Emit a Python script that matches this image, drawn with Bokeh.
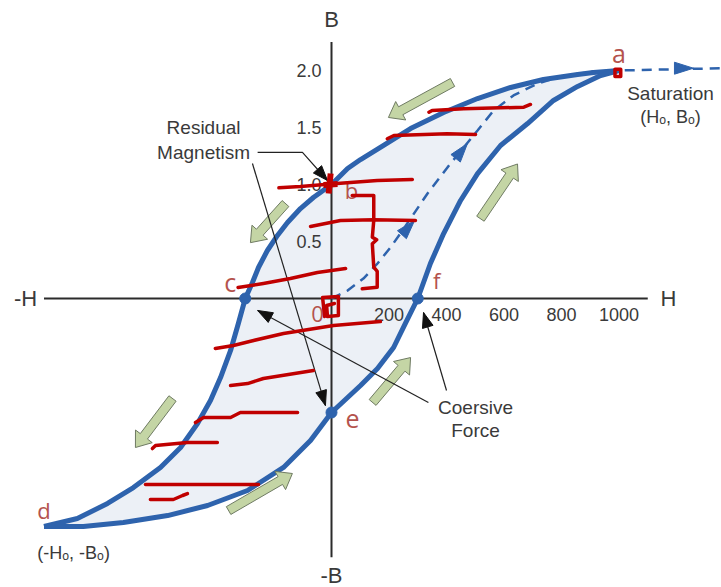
import math

from bokeh.core.properties import value
from bokeh.embed import file_html
from bokeh.models import Range1d
from bokeh.plotting import figure
from bokeh.resources import INLINE

# ---------------------------------------------------------------------------
# Data: B-H hysteresis loop (H in A/m, B in tesla)
# ---------------------------------------------------------------------------
# upper (descending) branch, from saturation a down to d
UPPER_H = [1000, 911, 856, 737, 623, 508, 390, 275, 170, 101, 56, 0, -63, -108,
           -153, -188, -223, -254, -275, -300, -324, -351, -386, -421, -466,
           -525, -595, -689, -779, -884, -1000]
UPPER_B = [2.0, 1.982, 1.965, 1.921, 1.851, 1.754, 1.632, 1.491, 1.325, 1.219,
           1.140, 1.0, 0.886, 0.789, 0.667, 0.553, 0.421, 0.272, 0.140, 0.0,
           -0.219, -0.456, -0.693, -0.895, -1.096, -1.307, -1.482, -1.658,
           -1.798, -1.930, -2.0]

# lower (ascending) branch, from d back up to a
LOWER_H = [-1000, -863, -724, -570, -431, -292, -167, -73, 0, 101, 160, 216,
           257, 300, 344, 390, 449, 508, 588, 682, 772, 856, 936, 1000]
LOWER_B = [-2.0, -2.0, -1.965, -1.904, -1.816, -1.684, -1.482, -1.246, -1.0,
           -0.763, -0.614, -0.430, -0.219, 0.0, 0.307, 0.570, 0.860, 1.096,
           1.342, 1.535, 1.737, 1.860, 1.956, 2.0]

# initial magnetisation curve from the origin to saturation and beyond
VIRGIN_H = [0, 56, 111, 160, 205, 254, 334, 414, 508, 564, 633, 717, 797, 911,
            1000, 1360]
VIRGIN_B = [0.0, 0.070, 0.175, 0.307, 0.447, 0.623, 0.921, 1.184, 1.474, 1.649,
            1.781, 1.886, 1.947, 1.991, 2.0, 2.02]

# labelled points on the loop
KEY_NAMES = ["a", "b", "c", "d", "e", "f"]
KEY_H = [1000, 0, -300, -1000, 0, 300]
KEY_B = [2.0, 1.0, 0.0, -2.0, -1.0, 0.0]
DOT_NAMES = ["c", "e", "f"]

# tick values
H_TICKS = [200, 400, 600, 800, 1000]
H_TICK_LABELS = ["200", "400", "600", "800", "1000"]
B_TICKS = [0.5, 1.0, 1.5, 2.0]
B_TICK_LABELS = ["0.5", "1.0", "1.5", "2.0"]

# hand-drawn red markup strokes (H, B)
MARKUP = [
    ([339, 350, 460, 669, 692], [1.634, 1.649, 1.664, 1.678, 1.702]),
    ([194, 217, 402, 501], [1.401, 1.430, 1.445, 1.439]),
    ([-183, -108, 8, 159, 281], [0.971, 0.982, 1.006, 1.035, 1.044]),
    ([-73, 31, 147, 292], [0.632, 0.684, 0.690, 0.684]),
    ([72, 147, 147, 142, 157, 142, 147, 159, 159, 107],
     [0.904, 0.904, 0.684, 0.538, 0.515, 0.480, 0.275, 0.239, 0.099, 0.085]),
    ([-325, -237, -143, -49, 49], [0.096, 0.132, 0.175, 0.228, 0.263]),
    ([-24, -31, 24, 24, -14, -17, 10],
     [-0.158, 0.009, 0.018, -0.149, -0.158, -0.061, -0.044]),
    ([-404, -341, -271, -167, 7, 170], [-0.439, -0.412, -0.368, -0.307, -0.237, -0.202]),
    ([-351, -292, -237, -63], [-0.763, -0.746, -0.702, -0.632]),
    ([-473, -445, -351, -317, -118], [-1.088, -1.044, -1.044, -1.0, -1.0]),
    ([-623, -612, -501, -397], [-1.316, -1.289, -1.263, -1.263]),
    ([-647, -254], [-1.632, -1.632]),
    ([-630, -550, -518, -501], [-1.763, -1.763, -1.728, -1.711]),
    ([986, 1006, 1006, 986, 986], [2.012, 2.012, 1.948, 1.948, 2.012]),
]
# heavier marks: the cross at b
MARKUP_HEAVY = [
    ([-3, -10], [1.096, 0.921]),
    ([-28, 21], [0.996, 1.004]),
]

# ---------------------------------------------------------------------------
# Figure
# ---------------------------------------------------------------------------
W, HGT = 721, 587
X0, X1 = -1151.3, 1356.5
Y0, Y1 = -2.535, 2.614
PX_H = W / (X1 - X0)      # screen pixels per unit of H
PX_B = HGT / (Y1 - Y0)    # screen pixels per unit of B

BLUE = "#2E63AD"
FILL = "#ECF0F6"
INK = "#3A3A3A"
RED = "#C00000"
LETTER = "#B4534D"
GREEN = "#C4D5A5"
GREEN_EDGE = "#6F7B63"
SANS = "Liberation Sans"

p = figure(width=W, height=HGT, x_range=Range1d(X0, X1), y_range=Range1d(Y0, Y1),
           x_axis_type=None, y_axis_type=None, toolbar_location=None,
           output_backend="svg", min_border=0)
p.outline_line_color = None
p.background_fill_color = "white"
p.border_fill_color = "white"


def shift(h, b, dx=0.0, dy=0.0):
    """Move a data point by a screen offset in pixels (dy positive = up)."""
    return h + dx / PX_H, b + dy / PX_B


def label(h, b, txt, size, color=INK, font=SANS, align="center", dx=0.0, dy=0.0):
    x, y = shift(h, b, dx, dy)
    p.text(x=[x], y=[y], text=[txt], text_font=value(font),
           text_font_size=value(size), text_color=color,
           text_align=align, text_baseline="middle")


def frame(tail, tip):
    tx, ty = tail[0] * PX_H, tail[1] * PX_B
    hx, hy = tip[0] * PX_H, tip[1] * PX_B
    length = math.hypot(hx - tx, hy - ty)
    ux, uy = (hx - tx) / length, (hy - ty) / length
    return (tx, ty), (hx, hy), (ux, uy), (-uy, ux)


def to_data(points):
    return [q[0] / PX_H for q in points], [q[1] / PX_B for q in points]


def head(tail, tip, length, half):
    _, (hx, hy), (ux, uy), (nx, ny) = frame(tail, tip)
    bx, by = hx - ux * length, hy - uy * length
    return to_data([(hx, hy), (bx + nx * half, by + ny * half),
                    (bx - nx * half, by - ny * half)])


def block_arrow(tail, tip, shaft=4.5, half=10.5, length=14):
    (tx, ty), (hx, hy), (ux, uy), (nx, ny) = frame(tail, tip)
    bx, by = hx - ux * length, hy - uy * length
    pts = [(tx + nx * shaft, ty + ny * shaft), (bx + nx * shaft, by + ny * shaft),
           (bx + nx * half, by + ny * half), (hx, hy),
           (bx - nx * half, by - ny * half), (bx - nx * shaft, by - ny * shaft),
           (tx - nx * shaft, ty - ny * shaft)]
    return to_data(pts)


# shaded loop area
p.patch(UPPER_H + LOWER_H, UPPER_B + LOWER_B, fill_color=FILL, line_color=None)

# axes drawn through the origin
p.segment(x0=[-1000, 0], y0=[0, -2.27], x1=[1100, 0], y1=[0, 2.25],
          line_color="#2B2B2B", line_width=2)
label(1172, 0, "H", "22px")
label(-1064, 0, "-H", "22px")
label(0, 2.447, "B", "22px")
label(0, -2.43, "-B", "22px")
p.text(x=H_TICKS, y=[-16 / PX_B] * len(H_TICKS), text=H_TICK_LABELS,
       text_font=value(SANS), text_font_size=value("18px"), text_color=INK,
       text_align="center", text_baseline="middle")
p.text(x=[-10 / PX_H] * len(B_TICKS), y=B_TICKS, text=B_TICK_LABELS,
       text_font=value(SANS), text_font_size=value("18px"), text_color=INK,
       text_align="right", text_baseline="middle")

# initial magnetisation curve (dashed) with direction heads
p.line(VIRGIN_H, VIRGIN_B, line_color=BLUE, line_width=2.5, line_dash="10 7")
for tail, tip in [((205, 0.447), (289, 0.684)), ((334, 0.921), (473, 1.36)),
                  ((1100, 2.02), (1259, 2.02))]:
    hx, hy = head(tail, tip, 19, 6)
    p.patch(hx, hy, fill_color=BLUE, line_color=BLUE, line_width=1)

# loop outline and marked points
p.line(UPPER_H, UPPER_B, line_color=BLUE, line_width=5, line_join="round")
p.line(LOWER_H, LOWER_B, line_color=BLUE, line_width=5, line_join="round")
dots = [KEY_NAMES.index(n) for n in DOT_NAMES]
p.scatter([KEY_H[i] for i in dots], [KEY_B[i] for i in dots], size=11,
          fill_color=BLUE, line_color=BLUE)

# direction-of-travel block arrows
flow = [((421, 1.895), (198, 1.588)), ((518, 0.70), (647, 1.18)),
        ((-160, 0.833), (-282, 0.49)), ((-553, -0.877), (-682, -1.307)),
        ((-358, -1.86), (-136, -1.535)), ((143, -0.912), (275, -0.518))]
xs, ys = zip(*[block_arrow(t, h) for t, h in flow])
p.patches(list(xs), list(ys), fill_color=GREEN, line_color=GREEN_EDGE, line_width=1)

# callout leaders
leaders = [
    [(-257, 1.281), (-101, 1.281), (-14, 1.035)],
    [(-275, 1.184), (-21, -0.939)],
    [(400, -0.807), (320, -0.123)],
    [(337, -0.912), (-257, -0.105)],
]
p.multi_line([[q[0] for q in l] for l in leaders], [[q[1] for q in l] for l in leaders],
             line_color="#222222", line_width=1.2)
for l in leaders:
    hx, hy = head(l[-2], l[-1], 15, 5.5)
    p.patch(hx, hy, fill_color="#111111", line_color="#111111", line_width=1)

# callout texts
label(-445, 1.50, "Residual", "19px")
label(-445, 1.281, "Magnetism", "19px")
label(501, -0.956, "Coersive", "19px")
label(501, -1.158, "Force", "19px")
label(1179, 1.798, "Saturation", "19px")
label(1179, 1.588, "(H\u2092, B\u2092)", "18px")
label(-897, -2.228, "(-H\u2092, -B\u2092)", "18px")

# point letters
letter_offsets = {"a": (0, 17), "b": (20, -5), "c": (-15, 17),
                  "d": (0, 17), "e": (21, -6), "f": (19, 19)}
letter_sizes = {"a": "25px", "b": "22px", "c": "25px", "d": "22px", "e": "25px", "f": "22px"}
for n, h, b in zip(KEY_NAMES, KEY_H, KEY_B):
    dx, dy = letter_offsets[n]
    label(h, b, n, letter_sizes[n], color=LETTER, font="Open Sans", dx=dx, dy=dy)
label(0, 0, "0", "22px", color=LETTER, font="Open Sans", dx=-14, dy=-15)

# red markup on top
p.multi_line([m[0] for m in MARKUP], [m[1] for m in MARKUP], line_color=RED,
             line_width=3.5, line_cap="round", line_join="round")
p.multi_line([m[0] for m in MARKUP_HEAVY], [m[1] for m in MARKUP_HEAVY],
             line_color=RED, line_width=6, line_cap="butt", line_join="round")

open("out.html", "w").write(file_html(p, INLINE))
